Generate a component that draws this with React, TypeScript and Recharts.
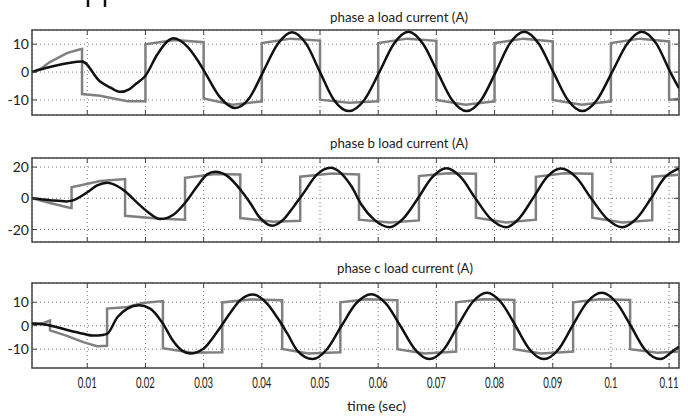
import React from 'react';
import { LineChart, Line, XAxis, YAxis, CartesianGrid, ReferenceArea } from 'recharts';

// time axis (sec)
const timeDomain = [0.0005, 0.1117];
const timeTicks = [0.01, 0.02, 0.03, 0.04, 0.05, 0.06, 0.07, 0.08, 0.09, 0.1, 0.11];

const titles = ['phase a load current (A)', 'phase b load current (A)', 'phase c load current (A)'];

const ticksA = [-10, 0, 10];
const ticksB = [-20, 0, 20];
const ticksC = [-10, 0, 10];

// phase a: sinusoidal (black) and stepped (grey) traces, [t, i]
const phaseASine: [number, number][] = [
  [0.0005, 0], [0.0036, 1.8], [0.0091, 3.8], [0.0122, -3.4], [0.014, -5.6], [0.0157, -7.1],
  [0.0172, -6.2], [0.0185, -4], [0.02, -1.3], [0.022, 6.2], [0.0237, 10.9], [0.0248, 12.1],
  [0.0272, 9.1], [0.0289, 4.4], [0.0302, 0], [0.0328, -9], [0.0354, -12.9], [0.0378, -9.5],
  [0.0402, 0], [0.0427, 10], [0.0452, 14.3], [0.0476, 10.2], [0.05, 0], [0.0524, -10],
  [0.055, -14], [0.0576, -10], [0.0602, 0], [0.0627, 10.2], [0.0652, 14.5], [0.0677, 10.2],
  [0.0702, 0], [0.0727, -10], [0.0752, -14], [0.0777, -10], [0.0802, 0], [0.0826, 10.2],
  [0.0851, 14.5], [0.0876, 10.2], [0.0901, 0], [0.0926, -10], [0.0951, -14], [0.0976, -10],
  [0.1002, 0], [0.1028, 10.2], [0.1053, 14.5], [0.1078, 10.2], [0.1102, 0], [0.1117, -5.8],
];
const phaseAStep: [number, number][] = [
  [0.0005, 0], [0.002, 1.2], [0.0035, 3.5], [0.0065, 6.8], [0.0088, 8.2], [0.0091, 8.3],
  [0.0091, -7.9], [0.0122, -8.5], [0.0169, -10.5], [0.02, -10.5],
  [0.02, 10], [0.025, 11.5], [0.03, 10.7], [0.03, -9.5], [0.035, -11.7], [0.04, -10.5],
  [0.04, 10.4], [0.045, 12], [0.05, 11.3], [0.05, -9.9], [0.055, -11], [0.06, -10.5],
  [0.06, 10.4], [0.065, 12], [0.07, 11.2], [0.07, -10], [0.075, -11.7], [0.08, -10.5],
  [0.08, 10.4], [0.085, 12], [0.09, 11], [0.09, -10], [0.095, -11.7], [0.1, -10.5],
  [0.1, 10.4], [0.105, 12], [0.11, 11], [0.11, -10], [0.1117, -9.6],
];

// phase b
const phaseBSine: [number, number][] = [
  [0.0005, 0], [0.0036, -1.2], [0.0064, -2], [0.0074, -1.5], [0.01, 3.9], [0.0117, 8.2],
  [0.0134, 9.9], [0.0152, 7.7], [0.0165, 4.5], [0.0179, -0.4], [0.0203, -8.4], [0.0225, -13.3],
  [0.0248, -10.5], [0.0268, -3], [0.0289, 7.7], [0.0306, 15.3], [0.032, 17], [0.0341, 14.2],
  [0.0363, 5.6], [0.038, -3], [0.0397, -12.6], [0.0418, -17.6], [0.0437, -13.7], [0.0455, -5.2],
  [0.047, 2.4], [0.0495, 15.3], [0.0518, 19.6], [0.0554, 7.7], [0.0571, -4], [0.0593, -13.7],
  [0.0619, -18.5], [0.0643, -13], [0.0667, -0.8], [0.0693, 13.5], [0.0717, 19.2], [0.0742, 13.5],
  [0.0767, 0], [0.0793, -13], [0.082, -18.5], [0.0842, -13], [0.0866, 0], [0.089, 13.5],
  [0.0914, 19], [0.094, 13.5], [0.0966, 0], [0.0993, -13], [0.1019, -18.5], [0.1044, -13],
  [0.1069, 0], [0.1093, 13.5], [0.1117, 19.2],
];
const phaseBStep: [number, number][] = [
  [0.0005, 0], [0.0036, -3], [0.0071, -6.2], [0.0073, -6.2],
  [0.0073, 7.1], [0.0122, 11], [0.0165, 12.3], [0.0165, -11.2], [0.022, -13], [0.0268, -13.7],
  [0.0268, 13.1], [0.032, 15.5], [0.0363, 15.3], [0.0363, -12.7], [0.042, -15], [0.0466, -14.4],
  [0.0466, 13.8], [0.052, 15.8], [0.0567, 15.3], [0.0567, -13.7], [0.062, -15.5], [0.067, -14.2],
  [0.067, 14.2], [0.072, 16], [0.0768, 15.7], [0.0768, -12.5], [0.082, -15.5], [0.0871, -13.7],
  [0.0871, 13.8], [0.092, 16], [0.0968, 15.7], [0.0968, -12.5], [0.102, -15.5], [0.1071, -14],
  [0.1071, 13.8], [0.1117, 15],
];

// phase c
const phaseCSine: [number, number][] = [
  [0.0005, 0.9], [0.0036, 0.1], [0.0064, -1.7], [0.0093, -3.4], [0.011, -4.2], [0.0127, -3.9],
  [0.0134, -3.5], [0.0152, 3.7], [0.0169, 7.3], [0.0189, 8.7], [0.0208, 7.3], [0.023, 0.9],
  [0.0247, -6.3], [0.0263, -10.6], [0.0277, -11.8], [0.0299, -9.9], [0.0323, -2.7], [0.0345, 5.2],
  [0.0363, 10.9], [0.0385, 13.3], [0.0409, 9.4], [0.0426, 3.7], [0.0444, -3.4], [0.0461, -10.6],
  [0.0487, -14.2], [0.0512, -10], [0.0537, 0], [0.0562, 9.5], [0.0588, 13.4], [0.0613, 9.5],
  [0.0638, 0], [0.0663, -10], [0.0688, -14.2], [0.0713, -10], [0.0737, 0], [0.0762, 10],
  [0.0787, 14], [0.0811, 10], [0.0836, 0], [0.086, -10], [0.0885, -14.2], [0.091, -10],
  [0.0934, 0], [0.0959, 10], [0.0984, 14], [0.1009, 10], [0.1034, 0], [0.1058, -10],
  [0.1085, -14.2], [0.1108, -10.5], [0.1117, -9],
];
const phaseCStep: [number, number][] = [
  [0.0005, 0.9], [0.0025, 1.2], [0.0036, 2.2], [0.0036, -2], [0.0064, -4.2], [0.0093, -7],
  [0.0117, -8.7], [0.0134, -8.5],
  [0.0134, 7.3], [0.0169, 8], [0.0195, 9.7], [0.023, 10.5], [0.023, -9.6], [0.028, -11.5], [0.0332, -11.3],
  [0.0332, 9.9], [0.038, 11.2], [0.0435, 10.9], [0.0435, -9.9], [0.048, -11.8], [0.0535, -11.3],
  [0.0535, 10], [0.058, 11.3], [0.0633, 10.9], [0.0633, -10], [0.068, -11.8], [0.0734, -11],
  [0.0734, 10], [0.078, 11.3], [0.0834, 11], [0.0834, -10], [0.088, -11.8], [0.0935, -11],
  [0.0935, 10], [0.098, 11.3], [0.1033, 11], [0.1033, -10], [0.108, -11.5], [0.1117, -11],
];

const W = 688;
const H = 417;
const LEFT = 32;
const RIGHT = 679;
const AXIS_H = 20;
const FONT = "Lato, 'Open Sans', 'Liberation Sans', sans-serif";

const toRows = (pts: [number, number][]) => pts.map(([t, v]) => ({ t, v }));

function Panel({ plotTop, plotBottom, yDomain, yTicks, step, sine, timeLabels }: any) {
  const timeTick = (props: any) => {
    const { x, payload } = props;
    const label = String(payload.value);
    return (
      <g>
        <line x1={x} x2={x} y1={plotTop} y2={plotTop + 5} stroke="#444" />
        <line x1={x} x2={x} y1={plotBottom} y2={plotBottom - 5} stroke="#444" />
        {timeLabels && (
          <text x={x} y={plotBottom + 20} textAnchor="middle" fontSize={16} fill="#222"
            fontFamily={FONT} textLength={label.length > 3 ? 19 : 13} lengthAdjust="spacingAndGlyphs">
            {label}
          </text>
        )}
      </g>
    );
  };
  const currentTick = (props: any) => {
    const { y, payload } = props;
    return (
      <g>
        <line x1={LEFT} x2={LEFT + 5} y1={y} y2={y} stroke="#444" />
        <line x1={RIGHT} x2={RIGHT - 5} y1={y} y2={y} stroke="#444" />
        <text x={29} y={y + 5} textAnchor="end" fontSize={14} fill="#222" fontFamily={FONT}>
          {payload.value}
        </text>
      </g>
    );
  };
  return (
    <div style={{ position: 'absolute', left: 0, top: 0 }}>
      <LineChart width={W} height={H}
        margin={{ top: plotTop, bottom: H - plotBottom - AXIS_H, left: 0, right: W - RIGHT }}>
        <CartesianGrid stroke="#777" strokeDasharray="1 3" />
        <XAxis dataKey="t" type="number" domain={timeDomain} ticks={timeTicks} allowDataOverflow
          height={AXIS_H} interval={0} axisLine={false} tickLine={false} tick={timeTick} />
        <YAxis type="number" domain={yDomain} ticks={yTicks} allowDataOverflow width={LEFT}
          interval={0} axisLine={false} tickLine={false} tick={currentTick} />
        <ReferenceArea x1={timeDomain[0]} x2={timeDomain[1]} y1={yDomain[0]} y2={yDomain[1]}
          fill="none" fillOpacity={0} stroke="#444" strokeWidth={1.5} ifOverflow="visible" />
        <Line data={toRows(step)} dataKey="v" type="linear" stroke="#808080" strokeWidth={2.5}
          dot={false} isAnimationActive={false} />
        <Line data={toRows(sine)} dataKey="v" type="monotone" stroke="#111" strokeWidth={2.5}
          dot={false} isAnimationActive={false} />
      </LineChart>
    </div>
  );
}

export default function App() {
  return (
    <div style={{ position: 'absolute', left: 0, top: 0, width: W, height: H, background: '#fff' }}>
      <Panel plotTop={30} plotBottom={115} yDomain={[-15.4, 15.1]} yTicks={ticksA} step={phaseAStep} sine={phaseASine} />
      <Panel plotTop={158} plotBottom={242} yDomain={[-28, 25.8]} yTicks={ticksB} step={phaseBStep} sine={phaseBSine} />
      <Panel plotTop={283} plotBottom={368} yDomain={[-18, 18.2]} yTicks={ticksC} step={phaseCStep} sine={phaseCSine} timeLabels />
      <svg width={W} height={H} style={{ position: 'absolute', left: 0, top: 0 }}>
        <line x1={88} x2={88} y1={0} y2={7} stroke="#111" strokeWidth={2.5} />
        <line x1={105} x2={105} y1={0} y2={7} stroke="#111" strokeWidth={2.5} />
        <text x={330} y={22} fontSize={13.5} fill="#222" fontFamily={FONT} textLength={138} lengthAdjust="spacingAndGlyphs">{titles[0]}</text>
        <text x={330} y={148} fontSize={13.5} fill="#222" fontFamily={FONT} textLength={138} lengthAdjust="spacingAndGlyphs">{titles[1]}</text>
        <text x={337} y={273} fontSize={13.5} fill="#222" fontFamily={FONT} textLength={136} lengthAdjust="spacingAndGlyphs">{titles[2]}</text>
        <text x={347} y={411} fontSize={14} fill="#222" fontFamily={FONT} textLength={59} lengthAdjust="spacingAndGlyphs">time (sec)</text>
      </svg>
    </div>
  );
}
